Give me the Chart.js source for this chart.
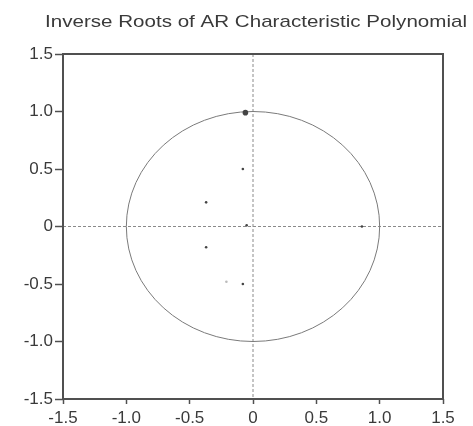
<!DOCTYPE html>
<html>
<head>
<meta charset="utf-8">
<script src="https://cdn.jsdelivr.net/npm/chart.js@4.4.1/dist/chart.umd.min.js"></script>
<style>
html, body { margin: 0; padding: 0; background: #fff; }
</style>
</head>
<body>
<canvas id="graph" width="473" height="426"></canvas>
<script>
// chart data
const chartTitle = "Inverse Roots of AR Characteristic Polynomial";
const rootRe = [-0.06, -0.08, -0.37, -0.05, -0.37, -0.08, -0.21, 0.86];
const rootIm = [0.99, 0.50, 0.21, 0.01, -0.18, -0.50, -0.48, 0.00];
const tickVals = [-1.5, -1.0, -0.5, 0, 0.5, 1.0, 1.5];
const tickLabels = ["-1.5", "-1.0", "-0.5", "0", "0.5", "1.0", "1.5"];

const FONT = '"Liberation Sans", Arial, sans-serif';
const INK = '#3a3a3a';

function tickText(v) {
    const i = tickVals.findIndex(t => Math.abs(t - v) < 1e-9);
    return i >= 0 ? tickLabels[i] : '';
}

// frame, zero lines, unit circle, title
const decor = {
    id: 'decor',
    beforeDatasetsDraw(chart) {
        const { ctx, chartArea: a, scales: { x, y } } = chart;
        const x0 = x.getPixelForValue(0), y0 = y.getPixelForValue(0);
        ctx.save();
        ctx.strokeStyle = '#8a8a8a';
        ctx.lineWidth = 1;
        ctx.setLineDash([3, 2]);
        ctx.beginPath();
        ctx.moveTo(a.left, y0); ctx.lineTo(a.right, y0);
        ctx.moveTo(x0, a.top); ctx.lineTo(x0, a.bottom);
        ctx.stroke();
        ctx.setLineDash([]);
        ctx.strokeStyle = '#7a7a7a';
        ctx.beginPath();
        ctx.ellipse(x0, y0, x.getPixelForValue(1) - x0, y0 - y.getPixelForValue(1), 0, 0, Math.PI * 2);
        ctx.stroke();
        ctx.restore();
    },
    afterDraw(chart) {
        const { ctx, chartArea: a } = chart;
        ctx.save();
        ctx.strokeStyle = '#505050';
        ctx.lineWidth = 2;
        ctx.strokeRect(a.left, a.top, a.right - a.left, a.bottom - a.top);
        ctx.font = '17px ' + FONT;
        ctx.fillStyle = INK;
        ctx.textAlign = 'center';
        ctx.textBaseline = 'alphabetic';
        const w = ctx.measureText(chartTitle).width;
        ctx.translate(256, 27);
        ctx.scale(422 / w, 1);
        ctx.fillText(chartTitle, 0, 0);
        ctx.restore();
    }
};

const axis = (tickLen, pad, size) => ({
    type: 'linear',
    min: -1.5,
    max: 1.5,
    border: { display: false },
    grid: { drawOnChartArea: false, drawTicks: true, tickLength: tickLen, tickColor: '#505050', tickWidth: 1.5 },
    ticks: {
        stepSize: 0.5,
        padding: pad,
        color: INK,
        font: { family: FONT, size: 17 },
        callback: v => tickText(v)
    }
});

const xAxis = axis(5, 4);
xAxis.afterFit = s => { s.height = 27; };
const yAxis = axis(8, 2);
yAxis.afterFit = s => { s.width = 63; };

new Chart(document.getElementById('graph'), {
    type: 'scatter',
    data: {
        datasets: [{
            label: 'roots',
            data: rootRe.map((re, i) => ({ x: re, y: rootIm[i] })),
            pointRadius: c => c.dataIndex === 0 ? 2.8 : 1.3,
            pointBackgroundColor: c => c.dataIndex === 6 ? '#bbbbbb' : '#444444',
            pointBorderWidth: 0
        }]
    },
    options: {
        responsive: false,
        animation: false,
        layout: { padding: { top: 54, right: 30, left: 0, bottom: 0 } },
        plugins: { legend: { display: false }, title: { display: false }, tooltip: { enabled: false } },
        scales: { x: xAxis, y: yAxis }
    },
    plugins: [decor]
});
</script>
</body>
</html>
